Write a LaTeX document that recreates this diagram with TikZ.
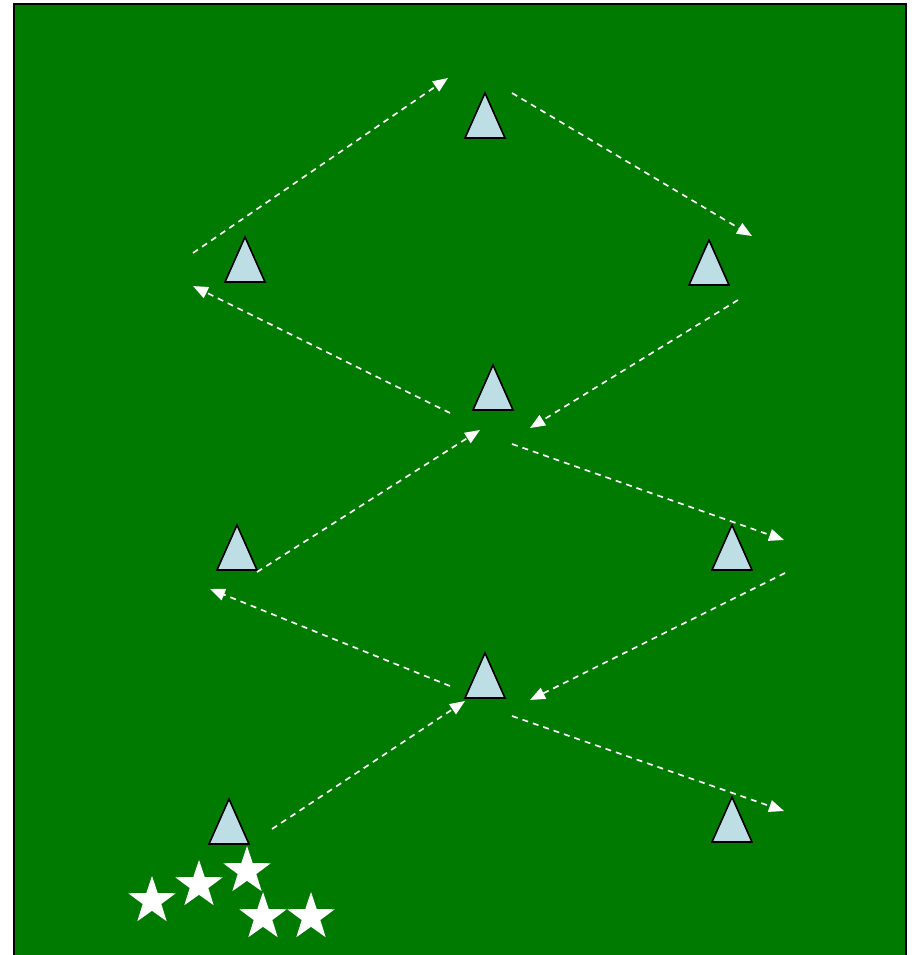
\documentclass[tikz,border=0pt]{standalone}
\usetikzlibrary{arrows.meta,shapes.geometric}
\definecolor{field}{RGB}{0,122,0}
\definecolor{conefill}{RGB}{188,222,228}
\tikzset{
  cone/.style={draw=black, line width=1.6pt, fill=conefill, line join=miter},
  run/.style={draw=white, line width=1.7pt, dash pattern=on 6pt off 5pt, -{Triangle[length=15pt,width=12pt,fill=white]}},
  player/.style={star, star points=5, star point ratio=2.55, minimum size=50pt, inner sep=0pt, fill=white, draw=none},
}
\begin{document}
\begin{tikzpicture}[x=1pt,y=-1pt]
\useasboundingbox (0,0) rectangle (915,955);
\draw[fill=field, draw=black, line width=2pt] (14,4) rectangle (906,970);
% cones (apex positions)
\foreach \n/\x/\y in {c1/485/93, c2/245/237, c3/709/240, c4/493/365, c5/237/525, c6/732/525, c7/485/653, c8/229/799, c9/732/797}{
  \coordinate (\n) at (\x,\y);
  \draw[cone] (\n) -- ++(20,45) -- ++(-40,0) -- cycle;
}
% arrow end points
\coordinate (a1) at (193,253); \coordinate (b1) at (448,78);
\coordinate (a2) at (512,93);  \coordinate (b2) at (752,236);
\coordinate (a3) at (738,300); \coordinate (b3) at (530,428);
\coordinate (a4) at (450,413); \coordinate (b4) at (193,286);
\coordinate (a5) at (257,572); \coordinate (b5) at (480,430);
\coordinate (a6) at (512,444); \coordinate (b6) at (784,540);
\coordinate (a7) at (785,573); \coordinate (b7) at (530,700);
\coordinate (a8) at (450,686); \coordinate (b8) at (210,589);
\coordinate (a9) at (272,829); \coordinate (b9) at (465,701);
\coordinate (a10) at (512,716); \coordinate (b10) at (784,811);
\foreach \i in {1,...,10}{ \draw[run] (a\i) -- (b\i); }
% players
\node[player] (s1) at (152,901) {};
\node[player] (s2) at (199,885) {};
\node[player] (s3) at (247,871) {};
\node[player] (s4) at (263,917) {};
\node[player] (s5) at (311,917) {};
\end{tikzpicture}
\end{document}
